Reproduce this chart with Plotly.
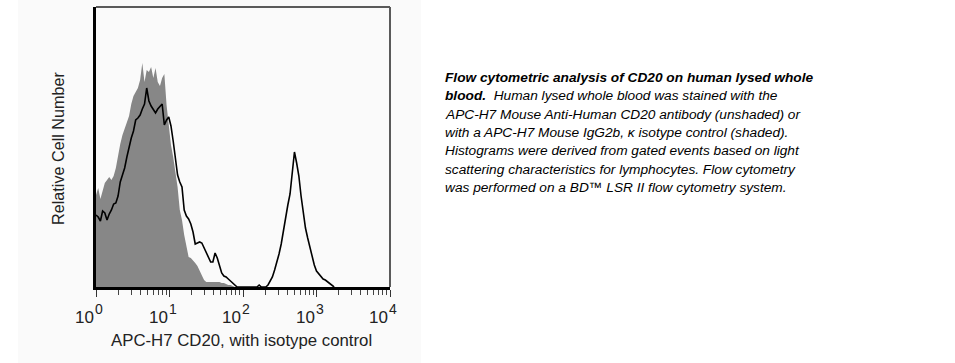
import plotly.graph_objects as go

# ---- data ----
# fluorescence positions in decades (log10 of APC-H7 intensity)
iso_log = [0.00, 0.03, 0.06, 0.09, 0.12, 0.15, 0.18, 0.21, 0.24, 0.27,
           0.30, 0.33, 0.36, 0.39, 0.42, 0.45, 0.48, 0.51, 0.54, 0.57,
           0.60, 0.63, 0.66, 0.69, 0.72, 0.75, 0.78, 0.81, 0.84, 0.87,
           0.90, 0.93, 0.96, 0.99, 1.02, 1.05, 1.08, 1.11, 1.14, 1.17,
           1.20, 1.23, 1.26, 1.29, 1.32, 1.35, 1.38, 1.41, 1.44, 1.47,
           1.50, 1.53, 1.56, 1.59, 1.62, 1.65, 1.68, 1.71, 1.74, 1.77,
           1.80, 1.83, 1.86, 1.89]
iso_counts = [92, 99, 88, 97, 104, 107, 110, 107, 111, 119,
              132, 143, 152, 159, 165, 171, 183, 191, 195, 199,
              207, 224, 205, 217, 215, 220, 209, 219, 205, 201,
              209, 213, 182, 159, 142, 130, 117, 100, 77, 67,
              52, 39, 30, 29, 27, 24, 21, 16, 11, 7,
              5, 5, 5, 5, 5, 5, 5, 4, 4, 3,
              2, 2, 1, 0]

cd20_log = [0.00, 0.03, 0.06, 0.09, 0.12, 0.15, 0.18, 0.21, 0.24, 0.27,
            0.30, 0.33, 0.36, 0.39, 0.42, 0.45, 0.48, 0.51, 0.54, 0.57,
            0.60, 0.63, 0.66, 0.69, 0.72, 0.75, 0.78, 0.81, 0.84, 0.87,
            0.90, 0.93, 0.96, 0.99, 1.02, 1.05, 1.08, 1.11, 1.14, 1.17,
            1.20, 1.23, 1.26, 1.29, 1.32, 1.35, 1.38, 1.41, 1.44, 1.47,
            1.50, 1.53, 1.56, 1.59, 1.62, 1.65, 1.68, 1.71, 1.74, 1.77,
            1.80, 1.83, 1.86, 1.89, 1.92, 1.95, 1.98, 2.01, 2.04, 2.07,
            2.10, 2.13, 2.16, 2.19, 2.22, 2.25, 2.28, 2.31, 2.34, 2.37,
            2.40, 2.43, 2.46, 2.49, 2.52, 2.55, 2.58, 2.61, 2.64, 2.67,
            2.70, 2.73, 2.76, 2.79, 2.82, 2.85, 2.88, 2.91, 2.94, 2.97,
            3.00, 3.03, 3.06, 3.09, 3.12, 3.15, 3.18, 3.21, 3.24]
cd20_counts = [72, 70, 66, 76, 74, 67, 73, 77, 83, 84,
               91, 105, 112, 119, 130, 140, 149, 156, 167, 169,
               172, 178, 183, 199, 186, 181, 177, 174, 178, 181,
               183, 162, 167, 170, 161, 146, 127, 112, 105, 100,
               77, 71, 68, 63, 55, 43, 44, 45, 44, 39,
               34, 29, 25, 25, 34, 29, 22, 14, 11, 10,
               8, 6, 5, 2, 0, 0, 0, 0, 0, 0,
               0, 0, 0, 0, 2, 0, 0, 0, 2, 6,
               10, 17, 24, 33, 43, 57, 72, 82, 93, 112,
               135, 124, 111, 91, 75, 59, 49, 39, 29, 22,
               16, 13, 10, 8, 7, 5, 4, 1, 0]

decade_exps = [0, 1, 2, 3, 4]
decade_vals = [10 ** e for e in decade_exps]
minor_vals = [m * d for d in [1, 10, 100, 1000] for m in range(2, 10)]

x_title = "APC-H7 CD20, with isotype control"
y_title = "Relative Cell Number"
caption_lines = [
    "<b><i>Flow cytometric analysis of CD20 on human lysed whole</i></b>",
    "<b><i>blood.</i></b><i>&nbsp; Human lysed whole blood was stained with the</i>",
    "<i>APC-H7 Mouse Anti-Human CD20 antibody (unshaded) or</i>",
    "<i>with a APC-H7 Mouse IgG2b, κ isotype control (shaded).</i>",
    "<i>Histograms were derived from gated events based on light</i>",
    "<i>scattering characteristics for lymphocytes. Flow cytometry</i>",
    "<i>was performed on a BD™ LSR II flow cytometry system.</i>",
]

FONT = "Liberation Sans, Arial, sans-serif"
W, H = 955, 363
L, R, T, B = 96, 390, 7, 287  # plot area in pixels
pw, ph = R - L, B - T


def px_to_paper_x(px):
    return (px - L) / pw


def px_to_paper_y(py):
    return (B - py) / ph


fig = go.Figure()
fig.add_trace(go.Scatter(
    x=[10 ** v for v in iso_log], y=iso_counts, mode="lines",
    fill="tozeroy", fillcolor="#878787", line=dict(width=0, color="#878787"),
    hoverinfo="skip", showlegend=False))
fig.add_trace(go.Scatter(
    x=[10 ** v for v in cd20_log], y=cd20_counts, mode="lines",
    line=dict(width=1.6, color="#000000"),
    hoverinfo="skip", showlegend=False))

fig.update_layout(
    width=W, height=H,
    margin=dict(l=L, r=W - R, t=T, b=H - B, pad=0),
    paper_bgcolor="#ffffff", plot_bgcolor="#fafafa",
    font=dict(family=FONT, color="#111111"),
    xaxis=dict(
        type="log", range=[0, 4], showgrid=False, zeroline=False,
        showline=True, linecolor="#000000", linewidth=3,
        tickmode="array", tickvals=decade_vals, showticklabels=False,
        ticks="outside", ticklen=7, tickwidth=1, tickcolor="#333333",
        minor=dict(tickmode="array", tickvals=minor_vals, ticks="outside",
                   ticklen=5, tickwidth=1, tickcolor="#444444"),
    ),
    yaxis=dict(
        range=[0, 280], showgrid=False, zeroline=False, showticklabels=False,
        ticks="", showline=True, linecolor="#000000", linewidth=3,
    ),
    shapes=[
        dict(type="rect", xref="paper", yref="paper", layer="below",
             x0=px_to_paper_x(18), x1=px_to_paper_x(421),
             y0=px_to_paper_y(H + 2), y1=px_to_paper_y(-2),
             fillcolor="#fafafa", line=dict(width=0)),
        dict(type="line", xref="paper", yref="paper", x0=0, x1=1, y0=1, y1=1,
             line=dict(color="#5a5a5a", width=2)),
        dict(type="line", xref="paper", yref="paper", x0=1, x1=1, y0=0, y1=1,
             line=dict(color="#5a5a5a", width=2)),
    ],
)

annotations = []
# decade tick labels: "10" with a large raised exponent, placed on the axis scale
for e, v in zip(decade_exps, decade_vals):
    annotations.append(dict(
        text="10", xref="x", yref="paper", x=e, y=px_to_paper_y(317),
        xanchor="right", yanchor="middle", xshift=0, showarrow=False,
        font=dict(size=17, family=FONT, color="#222222")))
    annotations.append(dict(
        text=str(e), xref="x", yref="paper", x=e, y=px_to_paper_y(309),
        xanchor="left", yanchor="middle", xshift=-3, showarrow=False,
        font=dict(size=14, family=FONT, color="#222222")))

annotations += [
    dict(text=x_title, xref="paper", yref="paper",
         x=px_to_paper_x(241), y=px_to_paper_y(340),
         xanchor="center", yanchor="middle", showarrow=False,
         font=dict(size=16.8, family=FONT, color="#222222")),
    dict(text=y_title, xref="paper", yref="paper",
         x=px_to_paper_x(58), y=px_to_paper_y(148), textangle=-90,
         xanchor="center", yanchor="middle", showarrow=False,
         font=dict(size=16.2, family=FONT, color="#222222")),
]
line_y0, line_gap = 77.5, 18.35
for i, line in enumerate(caption_lines):
    annotations.append(dict(
        text=line, xref="paper", yref="paper",
        x=px_to_paper_x(443), y=px_to_paper_y(line_y0 + i * line_gap),
        xanchor="left", yanchor="middle", showarrow=False,
        font=dict(size=13.7, family=FONT, color="#000000")))
fig.update_layout(annotations=annotations)

fig.write_html("out.html",
               config={"displayModeBar": False},
               post_script="document.body.style.margin='0';"
                           "document.body.style.padding='0';")
